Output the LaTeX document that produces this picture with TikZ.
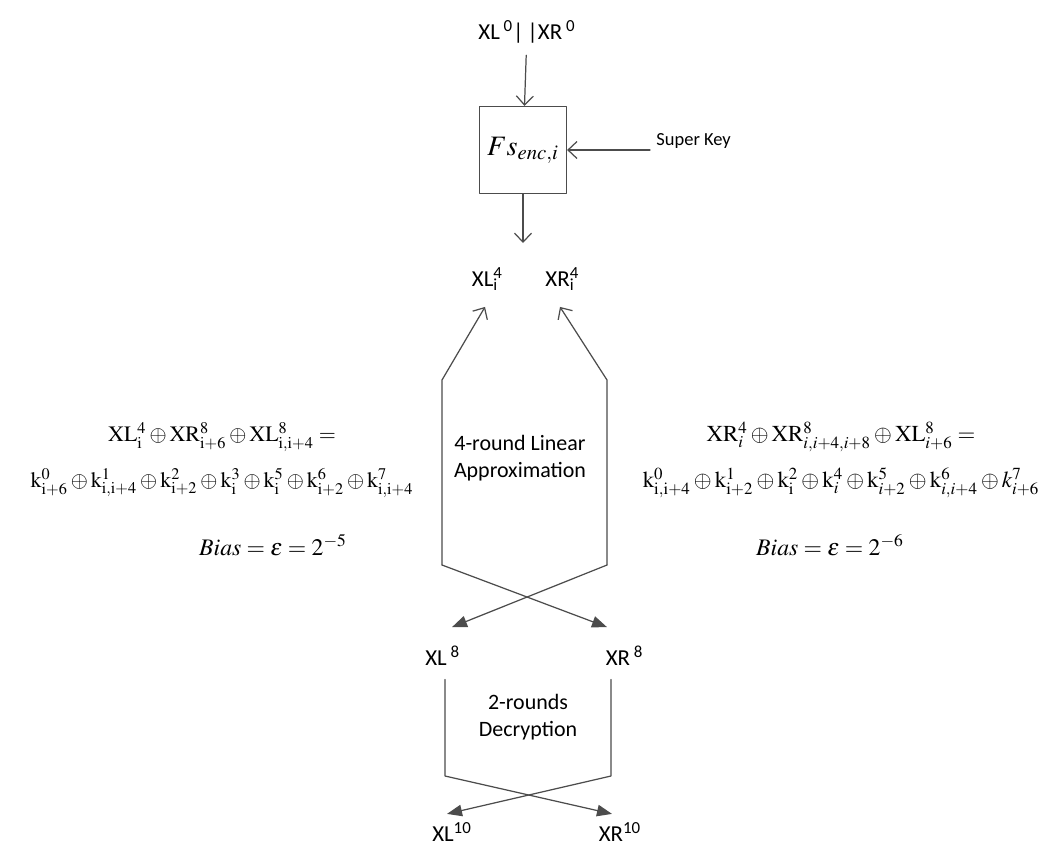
\documentclass[tikz,border=0pt]{standalone}
\usepackage{mathptmx}
\usepackage[no-math]{fontspec}
\setmainfont{Carlito}
\usetikzlibrary{arrows.meta}

\begin{document}
\begin{tikzpicture}[x=0.02cm, y=-0.02cm, line width=0.7pt, line cap=round, line join=round,
    open/.style={-{Straight Barb[length=1.8mm,width=3.4mm]}, color=black!70},
    cross/.style={-{Triangle[length=3mm,width=2.3mm]}, color=black!70},
    lbl/.style={font=\fontsize{13}{15}\selectfont},
    small/.style={font=\fontsize{12.5}{15}\selectfont, align=center},
    eq/.style={font=\fontsize{12.5}{26}\selectfont, align=center}]
    \useasboundingbox (0,0) rectangle (1048,849);
    % encryption box
    \node[lbl] (top) at (527,32) {XL\,\textsuperscript{0}|\,|XR\,\textsuperscript{0}};
    \node[draw, color=black!70, text=black, minimum size=1.74cm, inner sep=0pt] (fs) at (523,150) {\fontsize{16}{18}\selectfont $Fs_{enc,i}$};
    \node[font=\fontsize{10.5}{13}\selectfont, anchor=west] (key) at (650,141) {Super Key};
    \coordinate (fsout) at (523,243);
    \draw[open, shorten <=3pt] (top) -- (fs);
    \draw[open] (key.west |- fs.east) -- (fs.east);
    \draw[open] (fs) -- (fsout);
    % outputs of the cipher
    \node[lbl] (xl4) at (485,279) {XL\rlap{\textsuperscript{4}}\textsubscript{i}};
    \node[lbl] (xr4) at (560,279) {XR\rlap{\textsuperscript{4}}\textsubscript{i}};
    \node[lbl] (xl8) at (436,656) {XL\rlap{\,\textsuperscript{8}}};
    \node[lbl] (xr8) at (618,656) {XR\rlap{\,\textsuperscript{8}}};
    \node[lbl] (xl10) at (443,832) {XL\rlap{\textsuperscript{10}}};
    \node[lbl] (xr10) at (611,832) {XR\rlap{\textsuperscript{10}}};
    % 4-round approximation
    \coordinate (ua) at (442,380);
    \coordinate (ca) at (442,565);
    \coordinate (ub) at (607,380);
    \coordinate (cb) at (607,565);
    \draw[open] (ca) -- (ua) -- ([yshift=-0.2cm]xl4.south);
    \draw[open] (cb) -- (ub) -- ([yshift=-0.2cm]xr4.south);
    \draw[cross] (ca) -- ([xshift=-0.22cm, yshift=0.25cm]xr8.north);
    \draw[cross] (cb) -- ([xshift=0.32cm, yshift=0.25cm]xl8.north);
    \node[small] (lin) at (520,458) {4-round Linear\\Approximation};
    % 2-round decryption
    \coordinate (la) at (445,776);
    \coordinate (lb) at (611,776);
    \draw[cross, shorten <=0.14cm] (xl8.south -| la) -- (la) -- ([xshift=0.02cm, yshift=0.04cm]xr10.north);
    \draw[cross, shorten <=0.14cm] (xr8.south -| lb) -- (lb) -- ([xshift=0.08cm, yshift=0.04cm]xl10.north);
    \node[small] (dec) at (528,717) {2-rounds\\Decryption};
    % approximations
    \node[eq] (eql) at (222,460) {$\mathrm{XL^4_i \oplus XR^8_{i+6} \oplus XL^8_{i,i+4}} =$\\
      $\mathrm{k^0_{i+6} \oplus k^1_{i,i+4} \oplus k^2_{i+2} \oplus k^3_{i} \oplus k^5_{i} \oplus k^6_{i+2} \oplus k^7_{i,i+4}}$};
    \node[eq, font=\fontsize{13.5}{16}\selectfont] (biasl) at (273,545) {$Bias = \varepsilon = 2^{-5}$};
    \node[eq, font=\fontsize{13}{26}\selectfont] (eqr) at (841,460) {$\mathrm{XR}^4_{i} \oplus \mathrm{XR}^8_{i,i+4,i+8} \oplus \mathrm{XL}^8_{i+6} =$\\
      $\mathrm{k}^0_{\mathrm{i,i+4}} \oplus \mathrm{k}^1_{\mathrm{i+2}} \oplus \mathrm{k}^2_{\mathrm{i}} \oplus \mathrm{k}^4_{i} \oplus \mathrm{k}^5_{i+2} \oplus \mathrm{k}^6_{i,i+4} \oplus k^7_{i+6}$};
    \node[eq, font=\fontsize{13.5}{16}\selectfont] (biasr) at (830,545) {$Bias = \varepsilon = 2^{-6}$};
\end{tikzpicture}
\end{document}
